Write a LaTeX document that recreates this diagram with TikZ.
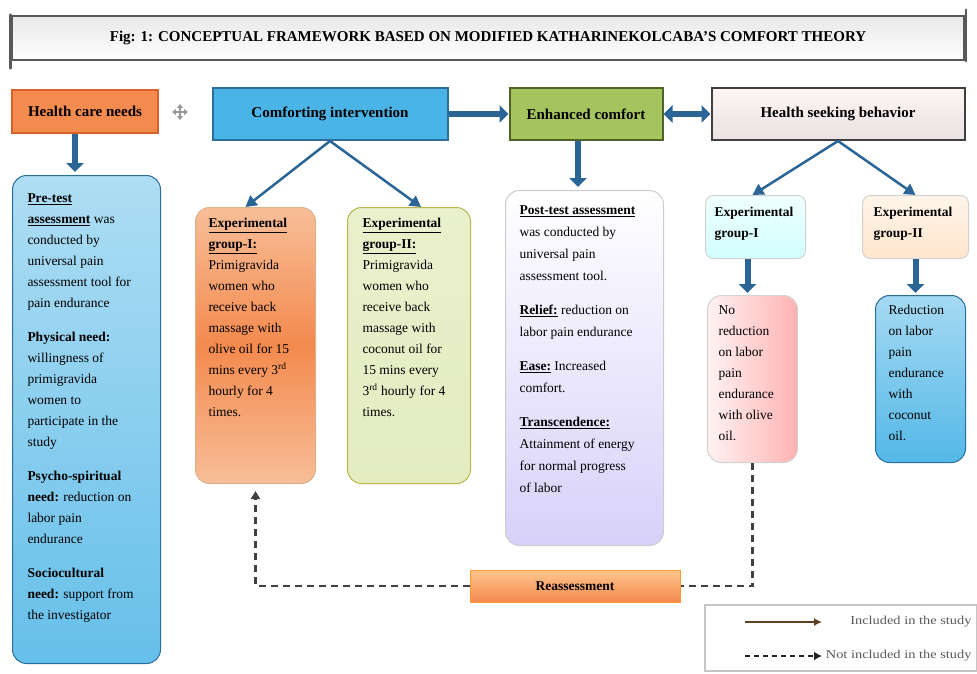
\documentclass[tikz,border=0pt]{standalone}
\usepackage{fontspec}
\setmainfont{Liberation Serif}
\newfontfamily\legendfont[FakeStretch=1.2]{Liberation Serif}
\usetikzlibrary{arrows.meta}

\definecolor{arrowblue}{HTML}{2B6596}
\definecolor{needorange}{HTML}{F38A4E}
\definecolor{needborder}{HTML}{D9622B}
\definecolor{comfblue}{HTML}{4BB4E6}
\definecolor{comfborder}{HTML}{2A6E9E}
\definecolor{enhgreen}{HTML}{A6C45E}
\definecolor{enhborder}{HTML}{4F6228}
\definecolor{palegreen}{HTML}{E4ECC0}
\definecolor{paleorange}{HTML}{F8BE98}

\begin{document}
\begin{tikzpicture}[x=1pt, y=-1pt,
    header/.style ={draw, line width=2pt, inner sep=0pt, font=\fontsize{15}{18}\selectfont\bfseries},
    card/.style ={draw, line width=1pt, rounded corners=14pt, anchor=north west, inner xsep=13pt,
                  font=\fontsize{13.5}{21}\selectfont},
    bigarrow/.style ={arrowblue, line width=6pt, -{Triangle[length=9pt,width=17pt]}},
    thinarrow/.style ={arrowblue, line width=2.5pt, -{Triangle[length=11pt,width=12pt]}},
    feedback/.style ={black!75, line width=2.5pt, dash pattern=on 7pt off 5pt}]
   \useasboundingbox (0,0) rectangle (977,673);

   % title
   \node[draw=gray!70!black, line width=2.5pt, top color=gray!18, bottom color=white,
         minimum width=953pt, minimum height=44pt, font=\fontsize{15}{17}\selectfont\bfseries]
         (title) at (488,38) {Fig: 1: CONCEPTUAL FRAMEWORK BASED ON MODIFIED KATHARINEKOLCABA'S COMFORT THEORY};
   \draw[gray!70!black, line width=2.5pt, line cap=round] (title.north west) -- ([yshift=-7pt]title.south west);
   \draw[gray!70!black, line width=2.5pt, line cap=round] ([yshift=5pt]title.north east) -- (title.south east);

   % top row
   \node[header, fill=needorange, draw=needborder, minimum width=146pt, minimum height=43pt] (needs) at (85,111) {Health care needs};
   \node[header, fill=comfblue, draw=comfborder, minimum width=235pt, minimum height=52pt] (interv) at (330,114) {Comforting intervention};
   \node[header, fill=enhgreen, draw=enhborder, minimum width=153pt, minimum height=52pt] (enhanced) at (586,114) {Enhanced comfort};
   \node[header, top color=red!4, bottom color=red!12!gray!20, draw=black!75, minimum width=253pt, minimum height=52pt] (seeking) at (838,114) {Health seeking behavior};

   % move symbol
   \draw[gray!80, line width=1.4pt, {Triangle[length=4pt,width=6pt]}-{Triangle[length=4pt,width=6pt]}] (172,112) -- (188,112);
   \draw[gray!80, line width=1.4pt, {Triangle[length=4pt,width=6pt]}-{Triangle[length=4pt,width=6pt]}] (180,104) -- (180,120);

   % boxes
   \node[card, top color=comfblue!45, bottom color=comfblue!85, draw=comfborder, inner xsep=15pt, inner ysep=18pt] (pretest) at (12,175)
     {\parbox[t][452pt][t]{118pt}{\raggedright
      \underline{\textbf{Pre-test}}\\
      \underline{\textbf{assessment}} was\\
      conducted by\\
      universal pain\\
      assessment tool for\\
      pain endurance\\[13pt]
      \textbf{Physical need:}\\
      willingness of\\
      primigravida\\
      women to\\
      participate in the\\
      study\\[13pt]
      \textbf{Psycho-spiritual}\\
      \textbf{need:} reduction on\\
      labor pain\\
      endurance\\[13pt]
      \textbf{Sociocultural}\\
      \textbf{need:} support from\\
      the investigator}};

   \node[card, top color=paleorange, bottom color=paleorange, middle color=needorange, draw=brown!60, inner ysep=11pt] (groupA) at (195,207)
     {\parbox[t][254pt][t]{94pt}{\raggedright
      \underline{\textbf{Experimental}}\\
      \underline{\textbf{group-I:}}\\
      Primigravida\\
      women who\\
      receive back\\
      massage with\\
      olive oil for 15\\
      mins every 3\textsuperscript{rd}\\
      hourly for 4\\
      times.}};

   \node[card, top color=palegreen!80, bottom color=palegreen, draw=olive!60, inner xsep=15pt, inner ysep=11pt] (groupB) at (347,207)
     {\parbox[t][254pt][t]{93pt}{\raggedright
      \underline{\textbf{Experimental}}\\
      \underline{\textbf{group-II:}}\\
      Primigravida\\
      women who\\
      receive back\\
      massage with\\
      coconut oil for\\
      15 mins every\\
      3\textsuperscript{rd} hourly for 4\\
      times.}};

   \node[card, top color=white, bottom color=violet!25!blue!18, draw=gray!40, inner xsep=14pt, inner ysep=15pt,
         font=\fontsize{13.5}{22}\selectfont] (posttest) at (505,190)
     {\parbox[t][325pt][t]{130pt}{\raggedright
      \underline{\textbf{Post-test assessment}}\\
      was conducted by\\
      universal pain\\
      assessment tool.\\[12pt]
      \underline{\textbf{Relief:}} reduction on\\
      labor pain endurance\\[12pt]
      \underline{\textbf{Ease:}} Increased\\
      comfort.\\[12pt]
      \underline{\textbf{Transcendence:}}\\
      Attainment of energy\\
      for normal progress\\
      of labor}};

   \node[card, rounded corners=8pt, top color=cyan!6, bottom color=cyan!18, draw=gray!35, inner xsep=9pt, inner ysep=12pt] (seekA) at (705,195)
     {\parbox[t][39pt][t]{82pt}{\raggedright\textbf{Experimental}\\ \textbf{group-I}}};
   \node[card, rounded corners=8pt, top color=orange!8, bottom color=orange!20, draw=gray!35, inner xsep=11pt, inner ysep=12pt] (seekB) at (862,195)
     {\parbox[t][39pt][t]{84pt}{\raggedright\textbf{Experimental}\\ \textbf{group-II}}};

   \node[card, left color=red!5, right color=red!30, draw=gray!35, inner xsep=11pt, inner ysep=10pt] (olive) at (707,295)
     {\parbox[t][147pt][t]{68pt}{\raggedright
      No\\ reduction\\ on labor\\ pain\\ endurance\\ with olive\\ oil.}};
   \node[card, top color=comfblue!50, bottom color=comfblue!95, draw=comfborder, inner ysep=10pt] (coconut) at (875,295)
     {\parbox[t][147pt][t]{64pt}{\raggedright
      Reduction\\ on labor\\ pain\\ endurance\\ with\\ coconut\\ oil.}};

   \node[draw=orange!80, line width=1pt, top color=orange!45, bottom color=needorange, minimum width=210pt, minimum height=32pt,
         font=\fontsize{13.5}{16}\selectfont\bfseries] (reassess) at (575,586) {Reassessment};

   % connectors
   \draw[bigarrow] (interv.east) to (enhanced.west);
   \draw[bigarrow, {Triangle[length=9pt,width=17pt]}-{Triangle[length=9pt,width=17pt]}] (enhanced.east) to (seeking.west);
   \draw[bigarrow] ([xshift=-10pt]needs.south) to ([xshift=-10pt]needs.south |- 0,172);
   \draw[bigarrow] ([xshift=-8pt]enhanced.south) to ([xshift=-8pt]enhanced.south |- 0,187);
   \draw[thinarrow] (interv.south) to ([xshift=-10pt]groupA.north);
   \draw[thinarrow] (interv.south) to ([xshift=12pt]groupB.north);
   \draw[thinarrow] (seeking.south) to ([xshift=-3pt]seekA.north);
   \draw[thinarrow] (seeking.south) to (seekB.north);
   \draw[bigarrow] ([xshift=-8pt]seekA.south) to ([xshift=-8pt]seekA.south |- 0,293);
   \draw[bigarrow] (seekB.south) to (seekB.south |- 0,293);

   \draw[feedback] (olive.south) |- (reassess.east);
   \draw[feedback, -{Triangle[length=8pt,width=9pt]}] (reassess.west) -| ([yshift=-7pt]groupA.south);

   % legend
   \node[draw=gray!45, line width=1.5pt, fill=white, anchor=north west, minimum width=272pt, minimum height=66pt] (legend) at (704,604) {};
   \coordinate (solidA) at (745,622);
   \coordinate (solidB) at (822,622);
   \coordinate (dashA) at (745,656);
   \coordinate (dashB) at (822,656);
   \draw[brown!50!black, line width=1.8pt, -{Latex[length=8pt,width=8pt]}] (solidA) to (solidB);
   \draw[black!85, line width=1.8pt, dash pattern=on 5pt off 4pt, -{Latex[length=8pt,width=9pt]}] (dashA) to (dashB);
   \node[anchor=east, text=black!65, font=\legendfont\fontsize{12}{14}\selectfont] (inc) at (975,622) {Included in the study};
   \node[anchor=east, text=black!65, font=\legendfont\fontsize{12}{14}\selectfont] (notinc) at (975,656) {Not included in the study};
 \end{tikzpicture}
\end{document}
